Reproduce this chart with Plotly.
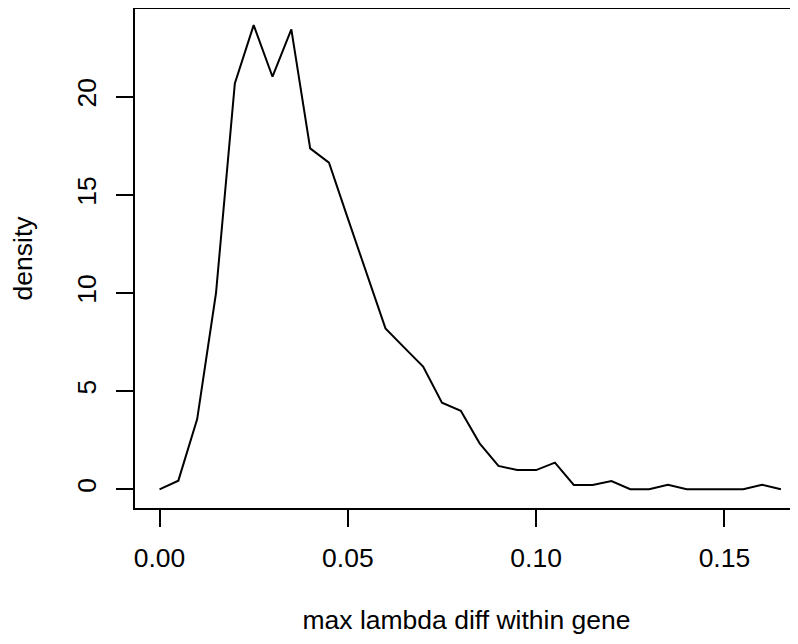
import plotly.graph_objects as go

# Data (density polygon, bin step 0.005)
x_vals = [0.000, 0.005, 0.010, 0.015, 0.020, 0.025, 0.030, 0.035, 0.040, 0.045,
          0.050, 0.055, 0.060, 0.065, 0.070, 0.075, 0.080, 0.085, 0.090, 0.095,
          0.100, 0.105, 0.110, 0.115, 0.120, 0.125, 0.130, 0.135, 0.140, 0.145,
          0.150, 0.155, 0.160, 0.165]
density = [0.00, 0.44, 3.58, 10.0, 20.68, 23.65, 21.02, 23.43, 17.37, 16.64,
           13.8, 10.95, 8.2, 7.22, 6.25, 4.41, 4.0, 2.34, 1.19, 0.98,
           0.98, 1.36, 0.22, 0.22, 0.42, 0.0, 0.0, 0.23, 0.0, 0.0,
           0.0, 0.0, 0.23, 0.0]

x_tickvals = [0.00, 0.05, 0.10, 0.15]
x_ticktext = ["0.00", "0.05", "0.10", "0.15"]
y_tickvals = [0, 5, 10, 15, 20]
y_ticktext = ["0", "5", "10", "15", "20"]

FONT = "Liberation Sans, Arial, sans-serif"
FS = 26.5

fig = go.Figure()
fig.add_trace(go.Scatter(x=x_vals, y=density, mode="lines",
                         line=dict(color="black", width=2), showlegend=False,
                         hoverinfo="skip"))

# The page body has an 8px margin, so the figure is sized to end at the window edge.
fig.update_layout(
    width=790, height=636,
    margin=dict(l=127, r=0, t=1, b=136, autoexpand=False),
    paper_bgcolor="white", plot_bgcolor="white",
    font=dict(family=FONT, size=FS, color="black"),
    xaxis=dict(
        range=[-0.00651, 0.16954], autorange=False, automargin=False,
        tickvals=x_tickvals, ticktext=x_ticktext,
        ticks="outside", ticklen=17, tickwidth=1.5, tickcolor="black",
        showline=True, linecolor="black", linewidth=1.5, mirror=True,
        showgrid=False, zeroline=False,
        ticklabelstandoff=8,
        title=dict(text="max lambda diff within gene", standoff=39,
                   font=dict(family=FONT, size=FS, color="black")),
    ),
    yaxis=dict(
        range=[-0.953, 24.47], autorange=False, automargin=False,
        tickvals=y_tickvals, ticktext=y_ticktext, tickangle=-90,
        ticks="outside", ticklen=17, tickwidth=1.5, tickcolor="black",
        showline=True, linecolor="black", linewidth=1.5, mirror=False,
        showgrid=False, zeroline=False,
        ticklabelstandoff=10,
        title=dict(text="density", standoff=34,
                   font=dict(family=FONT, size=FS, color="black")),
    ),
)

fig.write_html("out.html")
